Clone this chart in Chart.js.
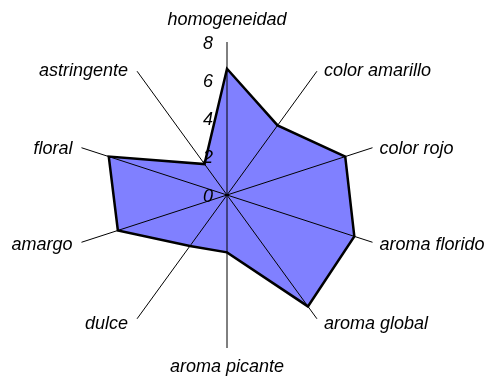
<!DOCTYPE html>
<html>
<head>
<meta charset="utf-8">
<script src="https://cdn.jsdelivr.net/npm/chart.js@4/dist/chart.umd.min.js"></script>
<style>
  body { margin: 0; background: #fff; }
  canvas { display: block; }
</style>
</head>
<body>
<canvas id="chart" width="489" height="377"></canvas>
<script>
const categories = ['homogeneidad', 'color amarillo', 'color rojo', 'aroma florido', 'aroma global',
  'aroma picante', 'dulce', 'amargo', 'floral', 'astringente'];
const scores = [6.6, 4.5, 6.5, 7, 7.2, 3, 3.3, 6, 6.5, 2];
const tickValues = [0, 2, 4, 6, 8];

// axis names and tick numbers drawn by hand so they sit where the original has them
const axisText = {
  id: 'axisText',
  afterDraw(chart) {
    const scale = chart.scales.r;
    const ctx = chart.ctx;
    ctx.save();
    ctx.fillStyle = '#000';
    ctx.textBaseline = 'middle';
    ctx.font = 'italic 18px "Liberation Sans", Arial, sans-serif';
    categories.forEach((name, i) => {
      const p = scale.getPointPosition(i, scale.drawingArea);
      const dx = p.x - scale.xCenter;
      const dy = p.y - scale.yCenter;
      let x = p.x, y = p.y;
      if (Math.abs(dx) < 1) {
        ctx.textAlign = 'center';
        y += dy < 0 ? -22 : 19;
      } else {
        ctx.textAlign = dx > 0 ? 'left' : 'right';
        x += dx > 0 ? 7 : -9;
        y += dy > 0 ? (dy > 100 ? 5 : 3) : (dy < -100 ? 0 : 1);
      }
      ctx.fillText(name, x, y);
    });
    ctx.textAlign = 'right';
    tickValues.forEach(v => {
      const d = scale.getDistanceFromCenterForValue(v);
      ctx.fillText(String(v), scale.xCenter - 14, scale.yCenter - d + 1.5);
    });
    ctx.restore();
  }
};

new Chart(document.getElementById('chart'), {
  type: 'radar',
  data: {
    labels: categories,
    datasets: [{
      data: scores,
      backgroundColor: '#8080ff',
      borderColor: '#000',
      borderWidth: 2.5,
      pointRadius: 0,
      fill: true,
    }],
  },
  options: {
    responsive: false,
    animation: false,
    layout: { padding: { left: 74, right: 109, top: 42, bottom: 29 } },
    plugins: { legend: { display: false }, tooltip: { enabled: false } },
    scales: {
      r: {
        min: 0,
        max: 8,
        ticks: { display: false, stepSize: 2 },
        grid: { display: false, z: 1 },
        angleLines: { display: true, color: '#000', lineWidth: 1 },
        pointLabels: { display: false },
      },
    },
  },
  plugins: [axisText],
});
</script>
</body>
</html>
